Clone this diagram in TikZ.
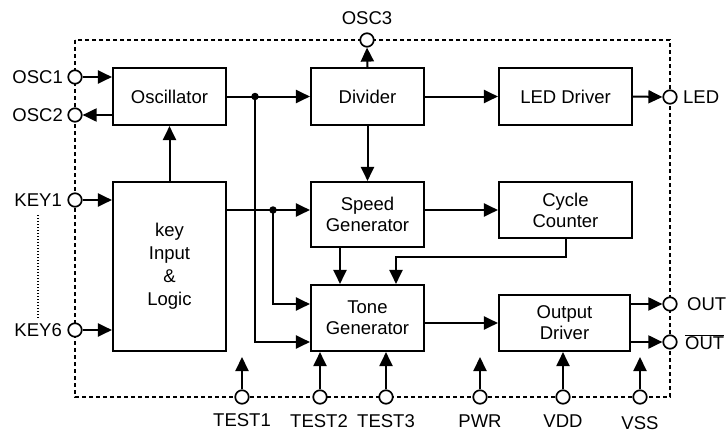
\documentclass[tikz,border=0pt]{standalone}
\usepackage{fontspec}
\setmainfont{Liberation Sans}
\usetikzlibrary{arrows.meta}
\begin{document}
\begin{tikzpicture}[x=1pt,y=-1pt,
  blk/.style={draw,line width=2.1pt,fill=white,inner sep=0pt,align=center,font=\fontsize{18.5}{21}\selectfont},
  pin/.style={draw,circle,line width=1.7pt,fill=white,minimum size=13.5pt,inner sep=0pt},
  lbl/.style={inner sep=0pt,font=\fontsize{18.5}{21}\selectfont},
  arr/.style={line width=2pt,-{Triangle[length=14pt,width=13pt]}},
  dot/.style={circle,fill=black,inner sep=0pt,minimum size=7.5pt}]
\useasboundingbox (0,0) rectangle (726,434);
% border
\draw[line width=1.5pt,dash pattern=on 4pt off 3pt] (75,40) rectangle (670,397);
\draw[line width=1.3pt,dash pattern=on 1.3pt off 1.7pt] (38,215) -- (38,318);
% boxes
\node[blk,minimum width=113pt,minimum height=57pt] (osc) at (169.5,96.5) {Oscillator};
\node[blk,minimum width=113pt,minimum height=57pt] (div) at (367.5,96.5) {Divider};
\node[blk,minimum width=133pt,minimum height=57pt] (led) at (565.5,96.5) {LED Driver};
\node[blk,minimum width=113pt,minimum height=169pt] (key) at (169.5,266.5) {key\\[2pt]Input\\[2pt]\&\\[2pt]Logic};
\node[blk,minimum width=113pt,minimum height=65pt] (spd) at (367.5,214.5) {Speed\\Generator};
\node[blk,minimum width=133pt,minimum height=56pt] (cyc) at (565.5,210) {Cycle\\Counter};
\node[blk,minimum width=113pt,minimum height=66pt] (tone) at (367.5,318) {Tone\\Generator};
\node[blk,minimum width=131pt,minimum height=56pt] (outd) at (564.5,323) {Output\\Driver};
% pins
\node[pin] (osc1) at (75,77) {};
\node[pin] (osc2) at (75,115) {};
\node[pin] (key1) at (75,200) {};
\node[pin] (key6) at (75,330) {};
\node[pin] (osc3) at (367,40) {};
\node[pin] (ledp) at (670,97) {};
\node[pin] (outp) at (670,304) {};
\node[pin] (outn) at (670,342) {};
\node[pin] (t1) at (242,397) {};
\node[pin] (t2) at (320,397) {};
\node[pin] (t3) at (386,397) {};
\node[pin] (pwr) at (480,397) {};
\node[pin] (vdd) at (563,397) {};
\node[pin] (vss) at (640,397) {};
% labels
\node[lbl,anchor=east] (losc1) at (63,77) {OSC1};
\node[lbl,anchor=east] (losc2) at (63,115) {OSC2};
\node[lbl,anchor=east] (lkey1) at (62,200) {KEY1};
\node[lbl,anchor=east] (lkey6) at (62,330) {KEY6};
\node[lbl] (losc3) at (367,18) {OSC3};
\node[lbl,anchor=west] (lled) at (683,97) {LED};
\node[lbl,anchor=west] (lout) at (687,304) {OUT};
\node[lbl,anchor=west] (loutn) at (685,342) {$\overline{\mbox{OUT}}$};
\node[lbl] (lt1) at (242,420) {TEST1};
\node[lbl] (lt2) at (319,421) {TEST2};
\node[lbl] (lt3) at (386,421) {TEST3};
\node[lbl] (lpwr) at (480,421) {PWR};
\node[lbl] (lvdd) at (563,421) {VDD};
\node[lbl] (lvss) at (640,423) {VSS};
% coordinates
\coordinate (j1) at (255,96.5);
\coordinate (j2) at (273,210);
\coordinate (ct) at (396,257);
\coordinate (t1e) at (242,357);
\coordinate (pwre) at (480,357);
\coordinate (vsse) at (640,357);
% connectors
\draw[arr] (osc1.east) -- (osc.west |- osc1);
\draw[arr] (osc.west |- osc2) -- (osc2.east);
\draw[arr] (key1.east) -- (key.west |- key1);
\draw[arr] (key6.east) -- (key.west |- key6);
\draw[arr] (key.north) -- (osc.south);
\draw[arr] (osc.east) -- (div.west);
\draw[arr] (j1) |- (tone.west |- 0,342);
\node[dot] at (j1) {};
\draw[arr] (key.east |- j2) -- (spd.west |- j2);
\draw[arr] (j2) |- (tone.west |- 0,304);
\node[dot] at (j2) {};
\draw[arr] (div.north) -- (osc3.south);
\draw[arr] (div.south) -- (spd.north);
\draw[arr] (div.east) -- (led.west);
\draw[arr] (led.east) -- (ledp.west);
\draw[arr] (spd.east |- j2) -- (cyc.west |- j2);
\draw[arr] (spd.south -| 340,0) -- (tone.north -| 340,0);
\draw[arr] (cyc.south) |- (ct) -- (ct |- tone.north);
\draw[arr] (tone.east |- 0,323) -- (outd.west |- 0,323);
\draw[arr] (outd.east |- outp) -- (outp.west);
\draw[arr] (outd.east |- outn) -- (outn.west);
\draw[arr] (t1.north) -- (t1e);
\draw[arr] (t2.north) -- (tone.south -| t2);
\draw[arr] (t3.north) -- (tone.south -| t3);
\draw[arr] (pwr.north) -- (pwre);
\draw[arr] (vdd.north) -- (outd.south -| vdd);
\draw[arr] (vss.north) -- (vsse);
\end{tikzpicture}
\end{document}
